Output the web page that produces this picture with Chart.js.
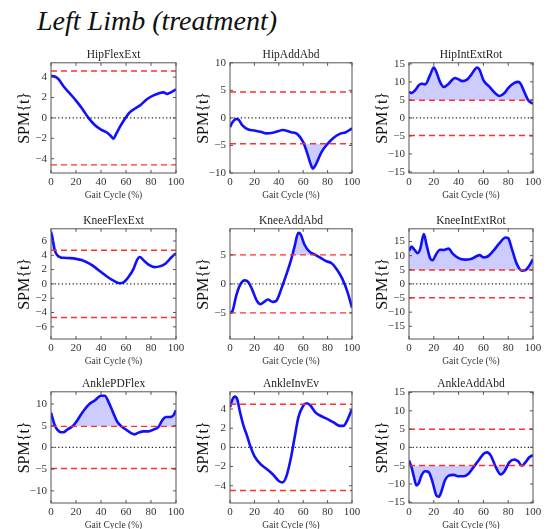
<!DOCTYPE html>
<html>
<head>
<meta charset="utf-8">
<script src="https://cdn.jsdelivr.net/npm/chart.js@4/dist/chart.umd.min.js"></script>
<style>
  body { margin: 0; background: #fff; }
  #page { position: relative; width: 546px; height: 529px; overflow: hidden; }
  #heading {
    position: absolute; left: 37px; top: 5px;
    font: italic 28px 'Liberation Serif', 'DejaVu Serif', serif; color: #111;
  }
  canvas { position: absolute; }
</style>
</head>
<body>
<div id="page">
  <div id="heading">Left Limb (treatment)</div>
</div>
<script>
// panel names
const names = ['HipFlexExt', 'HipAddAbd', 'HipIntExtRot',
               'KneeFlexExt', 'KneeAddAbd', 'KneeIntExtRot',
               'AnklePDFlex', 'AnkleInvEv', 'AnkleAddAbd'];

// SPM{t} curves (gait cycle %, t value)
const hipFlexExtX = [0, 3, 6, 10, 15, 20, 25, 30, 35, 40, 45, 48, 50, 52, 55, 59, 63, 67, 71, 77, 82, 87, 90, 93, 95, 100];
const hipFlexExtY = [4.1, 4.05, 3.8, 3.1, 2.4, 1.7, 0.9, 0.0, -0.7, -1.15, -1.45, -1.8, -2.05, -1.6, -0.9, -0.1, 0.55, 0.9, 1.2, 1.85, 2.2, 2.45, 2.5, 2.35, 2.45, 2.8];

const hipAddAbdX = [0, 2, 5, 7, 10, 15, 20, 25, 30, 35, 40, 43, 50, 55, 60, 63, 67, 68, 70, 75, 80, 85, 90, 95, 100];
const hipAddAbdY = [-1.7, -0.8, -0.2, -0.3, -1.3, -2.1, -2.3, -2.5, -2.8, -2.7, -2.4, -2.2, -2.6, -2.9, -4.4, -6.2, -8.9, -9.2, -8.6, -6.2, -4.7, -3.6, -2.9, -2.6, -1.9];

const hipIntExtRotX = [0, 2, 5, 8, 10, 13, 17, 20, 22, 25, 28, 32, 37, 40, 43, 47, 50, 55, 57, 60, 65, 70, 73, 77, 80, 85, 88, 90, 93, 96, 100];
const hipIntExtRotY = [7.2, 6.9, 7.7, 9.1, 9.5, 9.3, 11.9, 14.0, 12.8, 10.0, 8.6, 9.5, 11.1, 10.7, 10.2, 10.7, 11.9, 14.0, 13.3, 10.5, 8.6, 6.7, 6.1, 6.9, 8.3, 9.7, 10.0, 9.5, 7.2, 5.0, 3.9];

const kneeFlexExtX = [0, 1, 3, 5, 8, 10, 15, 20, 25, 30, 35, 40, 45, 50, 55, 58, 62, 66, 69, 71, 74, 78, 83, 87, 92, 96, 100];
const kneeFlexExtY = [7.3, 6.6, 4.7, 4.0, 3.7, 3.65, 3.6, 3.5, 3.3, 2.9, 2.35, 1.65, 1.0, 0.45, 0.1, 0.2, 0.95, 2.1, 3.4, 3.75, 3.3, 2.7, 2.35, 2.45, 2.9, 3.65, 4.3];

const kneeAddAbdX = [0, 2, 5, 8, 12, 15, 18, 22, 25, 28, 31, 35, 38, 42, 46, 50, 53, 56, 58, 61, 65, 70, 75, 79, 83, 88, 92, 96, 100];
const kneeAddAbdY = [-5.0, -4.7, -2.1, -0.3, 0.6, 0.3, -0.9, -2.9, -3.5, -3.1, -2.7, -3.1, -2.9, -0.9, 1.5, 4.1, 6.5, 8.8, 8.5, 6.8, 5.6, 5.0, 4.4, 3.9, 3.6, 2.35, 0.9, -1.2, -4.1];

const kneeIntExtRotX = [0, 2, 4, 7, 9, 12, 14, 17, 19, 22, 25, 28, 32, 35, 40, 45, 50, 54, 57, 60, 63, 68, 73, 78, 80, 83, 87, 91, 94, 97, 100];
const kneeIntExtRotY = [11.7, 13.2, 12.3, 10.9, 12.3, 17.6, 14.1, 9.1, 8.4, 10.6, 12.1, 12.0, 12.5, 10.8, 9.1, 8.6, 8.8, 9.7, 10.2, 9.4, 9.6, 11.7, 14.4, 16.4, 16.2, 12.3, 7.0, 4.7, 4.9, 6.4, 8.8];

const anklePDFlexX = [0, 1, 3, 5, 8, 10, 13, 17, 20, 25, 30, 35, 40, 43, 46, 50, 53, 57, 60, 64, 67, 70, 74, 78, 82, 86, 89, 92, 95, 98, 100];
const anklePDFlexY = [8.0, 7.0, 5.1, 4.1, 3.5, 3.5, 4.1, 4.8, 5.8, 8.0, 9.8, 10.8, 11.9, 11.9, 10.5, 7.8, 5.9, 4.7, 4.1, 3.3, 3.0, 3.4, 3.7, 3.7, 4.1, 4.7, 6.25, 7.0, 7.0, 7.4, 8.6];

const ankleInvEvX = [0, 2, 4, 6, 8, 11, 14, 17, 20, 25, 30, 35, 40, 43, 46, 50, 53, 56, 60, 63, 66, 70, 75, 80, 85, 90, 93, 96, 100];
const ankleInvEvY = [4.2, 5.0, 5.3, 5.0, 3.8, 2.3, 1.2, 0.0, -0.9, -1.75, -2.25, -2.8, -3.5, -3.65, -3.1, -1.05, 1.05, 3.1, 4.35, 4.6, 4.35, 3.65, 3.25, 2.95, 2.6, 2.25, 2.25, 2.8, 4.0];

const ankleAddAbdX = [0, 2, 4, 6, 8, 10, 13, 16, 19, 22, 24, 26, 29, 32, 36, 40, 44, 48, 52, 56, 60, 63, 66, 70, 74, 77, 81, 85, 88, 91, 94, 97, 100];
const ankleAddAbdY = [-3.6, -5.4, -8.1, -10.4, -9.7, -7.7, -6.5, -6.8, -9.5, -13.1, -13.5, -12.2, -9.0, -7.7, -7.5, -7.9, -7.9, -7.2, -5.4, -3.6, -1.8, -1.35, -2.25, -5.4, -7.4, -6.5, -4.05, -3.3, -3.8, -5.0, -4.05, -2.7, -2.1];

const curvesX = [hipFlexExtX, hipAddAbdX, hipIntExtRotX, kneeFlexExtX, kneeAddAbdX, kneeIntExtRotX, anklePDFlexX, ankleInvEvX, ankleAddAbdX];
const curvesY = [hipFlexExtY, hipAddAbdY, hipIntExtRotY, kneeFlexExtY, kneeAddAbdY, kneeIntExtRotY, anklePDFlexY, ankleInvEvY, ankleAddAbdY];

// critical thresholds (red dashed lines at +/-)
const thresholds = [4.6, 4.7, 4.9, 4.7, 5.0, 4.9, 4.85, 4.5, 4.95];
// symmetric y limits of each panel
const yLimits = [5.4, 10, 15.3, 7.7, 9.5, 19.5, 12.8, 5.8, 15.2];
// tick labels
const yTicks = [
  [-4, -2, 0, 2, 4],
  [-10, -5, 0, 5, 10],
  [-15, -10, -5, 0, 5, 10, 15],
  [-6, -4, -2, 0, 2, 4, 6],
  [-5, 0, 5],
  [-15, -10, -5, 0, 5, 10, 15],
  [-10, -5, 0, 5, 10],
  [-4, -2, 0, 2, 4],
  [-15, -10, -5, 0, 5, 10, 15]
];
const xTicks = [0, 20, 40, 60, 80, 100];

// grid placement of the plot areas
const colLeft = [51, 230, 409];
const colWidth = [125, 122, 124];
const rowTop = [63, 229, 392];
const rowHeight = [110, 110, 111];

const SERIF = "'Liberation Serif', 'DejaVu Serif', serif";
const SHADE = 'rgba(0, 0, 255, 0.2)';
const RED = '#ff3030';
const YAXIS_W = 42, XAXIS_H = 32, TOP_H = 20, RIGHT_PAD = 12;

Chart.defaults.font.family = SERIF;
Chart.defaults.color = '#333';

// matplotlib-like frame with inward ticks
const framePlugin = {
  id: 'frame',
  afterDraw(chart) {
    const { ctx, chartArea: a, scales } = chart;
    ctx.save();
    ctx.strokeStyle = '#555';
    ctx.lineWidth = 1;
    ctx.setLineDash([]);
    ctx.strokeRect(a.left, a.top, a.right - a.left, a.bottom - a.top);
    ctx.beginPath();
    scales.x.ticks.forEach(t => {
      const px = scales.x.getPixelForValue(t.value);
      ctx.moveTo(px, a.bottom); ctx.lineTo(px, a.bottom - 3);
      ctx.moveTo(px, a.top); ctx.lineTo(px, a.top + 3);
    });
    scales.y.ticks.forEach(t => {
      const py = scales.y.getPixelForValue(t.value);
      ctx.moveTo(a.left, py); ctx.lineTo(a.left + 3, py);
      ctx.moveTo(a.right, py); ctx.lineTo(a.right - 3, py);
    });
    ctx.stroke();
    ctx.restore();
  }
};

function hLine(y, color, dash, width) {
  return {
    data: [{ x: 0, y: y }, { x: 100, y: y }],
    borderColor: color, backgroundColor: color,
    borderWidth: width, borderDash: dash,
    pointRadius: 0, fill: false, order: -1
  };
}

// invisible copy of the curve that only paints the supra-threshold cluster
function shade(pts, value, up) {
  return {
    data: pts,
    borderColor: 'rgba(255,255,255,0)', borderWidth: 1,
    pointRadius: 0, cubicInterpolationMode: 'monotone', order: 2,
    fill: {
      target: { value: value },
      above: up ? SHADE : 'rgba(255,255,255,0)',
      below: up ? 'rgba(255,255,255,0)' : SHADE
    }
  };
}

document.addEventListener('DOMContentLoaded', function () {
  const page = document.getElementById('page');

  names.forEach(function (name, i) {
    const col = i % 3, row = Math.floor(i / 3);
    const thr = thresholds[i];
    const ys = curvesY[i];
    const pts = curvesX[i].map((x, k) => ({ x: x, y: ys[k] }));

    const datasets = [
      {
        // SPM curve
        data: pts,
        borderColor: '#1010ff', borderWidth: 2.6,
        pointRadius: 0, cubicInterpolationMode: 'monotone', fill: false, order: 0
      },
      hLine(0, '#222', [1.2, 2.4], 1.1),
      hLine(-thr, RED, [6, 4], 1.4),
      hLine(thr, RED, [6, 4], 1.4)
    ];
    if (Math.max(...ys) > thr) datasets.push(shade(pts, thr, true));
    if (Math.min(...ys) < -thr) datasets.push(shade(pts, -thr, false));

    const canvas = document.createElement('canvas');
    canvas.width = YAXIS_W + colWidth[col] + RIGHT_PAD;
    canvas.height = TOP_H + rowHeight[row] + XAXIS_H;
    canvas.style.left = (colLeft[col] - YAXIS_W) + 'px';
    canvas.style.top = (rowTop[row] - TOP_H) + 'px';
    canvas.style.width = canvas.width + 'px';
    canvas.style.height = canvas.height + 'px';
    page.appendChild(canvas);

    new Chart(canvas.getContext('2d'), {
      type: 'line',
      data: { datasets: datasets },
      options: {
        responsive: false,
        animation: false,
        events: [],
        layout: { padding: { top: 2, right: RIGHT_PAD, left: 0, bottom: 0 } },
        plugins: {
          legend: { display: false },
          tooltip: { enabled: false },
          filler: { drawTime: 'beforeDatasetsDraw' },
          title: {
            display: true, text: name, fullSize: false,
            color: '#222', font: { size: 11.5, weight: 'normal' },
            padding: { top: 3, bottom: 1 }
          }
        },
        scales: {
          x: {
            type: 'linear', min: 0, max: 100,
            grid: { display: false, drawTicks: false },
            border: { display: false },
            ticks: { font: { size: 11 }, padding: 3, maxRotation: 0 },
            afterBuildTicks: s => { s.ticks = xTicks.map(v => ({ value: v })); },
            afterFit: s => { s.height = XAXIS_H; s.paddingLeft = 0; s.paddingRight = 0; },
            title: {
              display: true, text: 'Gait Cycle (%)', color: '#333',
              font: { size: 9.5 }, padding: { top: 0, bottom: 4 }
            }
          },
          y: {
            min: -yLimits[i], max: yLimits[i],
            grid: { display: false, drawTicks: false },
            border: { display: false },
            ticks: {
              font: { size: 11 }, padding: 4,
              callback: v => String(v).replace('-', '\u2212')
            },
            afterBuildTicks: s => { s.ticks = yTicks[i].map(v => ({ value: v })); },
            afterFit: s => { s.width = YAXIS_W; s.paddingTop = 0; s.paddingBottom = 0; },
            title: {
              display: true, text: 'SPM{t}', color: '#111',
              font: { size: 16 }, padding: { top: 6, bottom: 0 }
            }
          }
        }
      },
      plugins: [framePlugin]
    });
  });
});
</script>
</body>
</html>
